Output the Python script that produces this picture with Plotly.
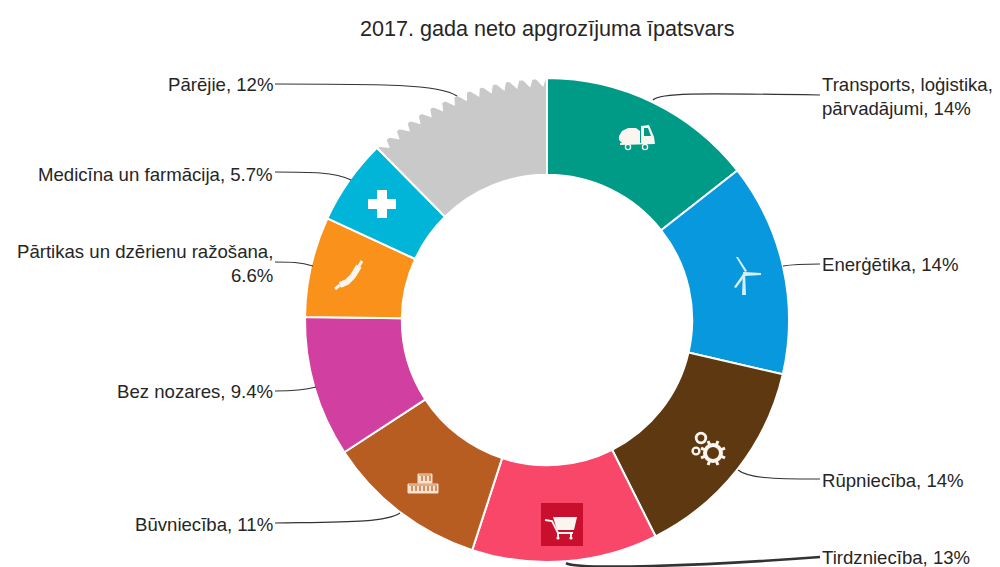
import math
import plotly.graph_objects as go

categories = ["Transports, loģistika, pārvadājumi", "Enerģētika", "Rūpniecība", "Tirdzniecība", "Būvniecība",
              "Bez nozares", "Pārtikas un dzērienu ražošana", "Medicīna un farmācija", "Pārējie"]
values = [14.4, 14.2, 14.0, 12.4, 10.8, 9.4, 6.7, 5.7, 12.4]
value_labels = ["14%", "14%", "14%", "13%", "11%", "9.4%", "6.6%", "5.7%", "12%"]
colors = ["#009B86", "#0898DD", "#5E3810", "#F9476A", "#B75D22", "#D13FA0", "#F9911B", "#00B5D8", "#C9C9C9"]
title = "2017. gada neto apgrozījuma īpatsvars"

W, H = 1000, 567
OFF = 8  # page body margin
CX, CY, R = 547, 320, 242
FONT = "Liberation Sans, Arial, sans-serif"
ICON = "#FBF5EF"

def X(x): return (x - OFF) / W
def Y(y): return 1 - (y - OFF) / H
def P(pts, close=True):
    s = "M" + " L".join(f"{X(a):.5f},{Y(b):.5f}" for a, b in pts)
    return s + (" Z" if close else "")
def curve(p0, c1, c2, p1):
    return (f"M{X(p0[0]):.5f},{Y(p0[1]):.5f} C{X(c1[0]):.5f},{Y(c1[1]):.5f} "
            f"{X(c2[0]):.5f},{Y(c2[1]):.5f} {X(p1[0]):.5f},{Y(p1[1]):.5f}")

fig = go.Figure(go.Pie(
    labels=categories, values=values, hole=0.6, sort=False, direction="clockwise", rotation=0,
    textinfo="none", hoverinfo="label+percent",
    marker=dict(colors=colors, line=dict(color="#FFFFFF", width=2)),
    domain=dict(x=[X(CX-R), X(CX+R)], y=[Y(CY+R), Y(CY-R)]), showlegend=False))

shapes = []
# sawtooth edge of the last slice: white notches
start = 360 * (1 - values[-1] / sum(values))
n = 14
step = (360 - start) / n
for i in range(n):
    a0 = math.radians(start + i * step)
    a1 = math.radians(start + (i + 1) * step)
    am = a0 + (a1 - a0) * 0.7
    pts = [(CX + 244*math.sin(a), CY - 244*math.cos(a)) for a in (a0, a1)]
    pts.insert(1, (CX + 233*math.sin(am), CY - 233*math.cos(am)))
    shapes.append(dict(type="path", xref="paper", yref="paper", path=P(pts), fillcolor="#FFFFFF", line=dict(width=0), layer="above"))

# connectors
conns = [
    ((653,100),(660,93),(690,93),(820,95),1.2),
    ((783,266),(795,264),(805,264),(820,264),1.2),
    ((738,470),(748,478),(770,479),(820,479),1.2),
    ((566,563),(578,570),(700,566),(820,557),2.6),
    ((400,513),(385,523),(340,522),(275,523),1.2),
    ((316,387),(305,390),(290,391),(275,391),1.2),
    ((313,266),(300,262),(290,262),(275,262),1.2),
    ((351,180),(335,172),(310,172),(275,172),1.2),
    ((457,96),(440,84),(380,84),(275,84),1.2),
]
for p0,c1,c2,p1,w in conns:
    shapes.append(dict(type="path", xref="paper", yref="paper", path=curve(p0,c1,c2,p1), line=dict(color="#333333", width=w), layer="above"))

def icon_path(path, fill=ICON):
    shapes.append(dict(type="path", xref="paper", yref="paper", path=path, fillcolor=fill, line=dict(width=0), layer="above"))
def icon_circle(cx, cy, r, fill=ICON, lw=0, lc=ICON):
    shapes.append(dict(type="circle", xref="paper", yref="paper", x0=X(cx-r), x1=X(cx+r), y0=Y(cy+r), y1=Y(cy-r),
                       fillcolor=fill, line=dict(width=lw, color=lc), layer="above"))
def icon_line(pts, w=1.5, color=ICON):
    shapes.append(dict(type="path", xref="paper", yref="paper", path=P(pts, False), line=dict(color=color, width=w), layer="above"))

# truck
icon_path(P([(619,136),(622,131),(628,128),(636,128),(640,131),(640,143),(622,143),(619,140)]))
icon_path(P([(641,126),(649,125),(654,137),(655,144),(620,145),(620,143),(641,143)]))
icon_path(P([(644,128),(648,128),(651,136),(644,136)]), "#009B86")
icon_circle(628, 147, 2.6, "#009B86", 1.3); icon_circle(645, 147, 2.6, "#009B86", 1.3)
# wind turbine
icon_path(P([(743,272),(745,272),(746,295),(742,295)]), "#D6EEFA")
icon_path(P([(745,272),(736,257),(738,257),(747,271)]), "#D6EEFA")
icon_path(P([(745,272),(761,273),(761,275),(745,276)]), "#D6EEFA")
icon_path(P([(743,274),(734,287),(736,288),(745,276)]), "#D6EEFA")
# gears
icon_circle(701,438,4.8,"#5E3810",2.8); icon_circle(696,451,3.4,"#5E3810",2.4)
icon_circle(713,453,8,"#5E3810",4)
for k in range(8):
    a = k*math.pi/4 + math.pi/8
    icon_line([(713+9*math.cos(a),453+9*math.sin(a)),(713+13*math.cos(a),453+13*math.sin(a))],3)
# cart
shapes.append(dict(type="rect", xref="paper", yref="paper", x0=X(541), x1=X(583), y0=Y(546), y1=Y(503), fillcolor="#C8102E", line=dict(width=0), layer="above"))
icon_path(P([(553,517),(577,517),(574,530),(557,530)]))
icon_line([(545,520),(552,521),(558,533),(573,533)],1.8)
icon_line([(558,533),(558,537)],2); icon_line([(571,533),(571,537)],2)
icon_circle(558,538,1.6); icon_circle(571,538,1.6)
# bricks
for x0,x1,y0,y1 in [(418,432,474,483),(408,438,484,493)]:
    shapes.append(dict(type="rect", xref="paper", yref="paper", x0=X(x0), x1=X(x1), y0=Y(y1), y1=Y(y0), fillcolor="#F8E2D0", line=dict(color="#F8E2D0", width=1), layer="above"))
    for xx in range(x0+4, x1-1, 4):
        icon_line([(xx,y0+2),(xx,y1-2)],1.2,"#B75D22")
    icon_line([(x0+1,y0+1),(x1-1,y0+1)],0.8,"#B75D22")
# sausage
icon_line([(340,285),(347,282),(353,276),(359,266)],6)
icon_line([(335,289),(340,285)],3); icon_line([(359,266),(362,261)],3)
# cross
icon_path(P([(377,190),(377,199),(368,199),(368,209),(377,209),(377,218),(387,218),(387,209),(396,209),(396,199),(387,199),(387,190)]), "#FFFFFF")

TXT = "#262626"
annos = [dict(text=title, x=X(547), y=Y(28), xanchor="center", yanchor="middle", align="center",
              font=dict(size=21.6, color=TXT, family=FONT))]
def label(text, x, y, anchor):
    annos.append(dict(text=text, x=X(x), y=Y(y), xanchor=anchor, yanchor="middle", align=anchor,
                      font=dict(size=18.6, color=TXT, family=FONT)))
label("Transports, loģistika,<br>pārvadājumi, " + value_labels[0], 820, 97, "left")
label(categories[1] + ", " + value_labels[1], 820, 264, "left")
label(categories[2] + ", " + value_labels[2], 820, 480, "left")
label(categories[3] + ", " + value_labels[3], 820, 557, "left")
label(categories[4] + ", " + value_labels[4], 275, 524, "right")
label(categories[5] + ", " + value_labels[5], 275, 391, "right")
label("Pārtikas un dzērienu ražošana,<br>" + value_labels[6], 275, 263, "right")
label(categories[7] + ", " + value_labels[7], 275, 174, "right")
label(categories[8] + ", " + value_labels[8], 275, 84, "right")
for a in annos:
    a.update(xref="paper", yref="paper", showarrow=False)

fig.update_layout(width=W, height=H, margin=dict(l=0, r=0, t=0, b=0), paper_bgcolor="#FFFFFF",
                  shapes=shapes, annotations=annos, showlegend=False)
fig.write_html("out.html")
